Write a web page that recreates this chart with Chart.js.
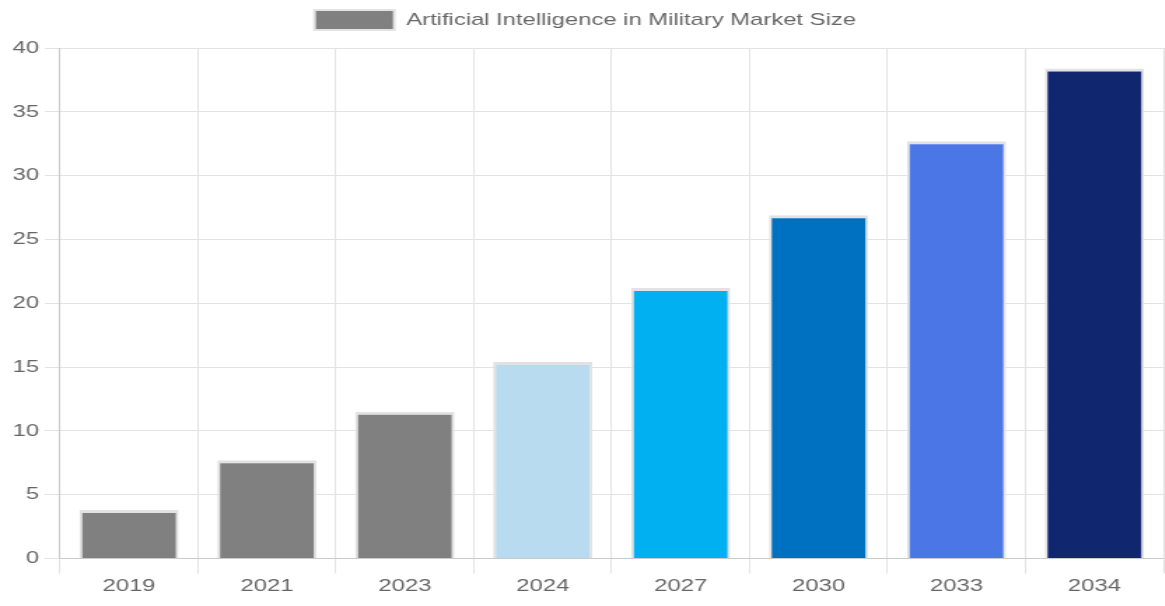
<!DOCTYPE html>
<html><head><meta charset="utf-8">
<script src="https://cdn.jsdelivr.net/npm/chart.js@4"></script>
<style>html,body{margin:0;padding:0;background:#fff;overflow:hidden;}#wrap{width:832px;height:606px;transform:scaleX(1.4);transform-origin:0 0;}</style>
</head><body><div id="wrap"><canvas id="c" width="832" height="606"></canvas></div>
<script>
const categories = ["2019","2021","2023","2024","2027","2030","2033","2034"];
const marketSize = [3.8, 7.7, 11.5, 15.4, 21.2, 26.9, 32.7, 38.4];
const barColors = ["#808080","#808080","#808080","#b8dbf0","#00b0f0","#0070c0","#4a76e6","#10276f"];
const seriesLabel = "Artificial Intelligence in Military Market Size";
const FONT = { family: 'Liberation Sans, Arial', size: 17 };

const legendGap = {
  id: 'legendGap',
  beforeInit(chart) {
    const fit = chart.legend.fit;
    chart.legend.fit = function () { fit.call(this); this.height += 8; };
  }
};

new Chart(document.getElementById('c'), {
  type: 'bar',
  data: {
    labels: categories,
    datasets: [{
      label: seriesLabel,
      data: marketSize,
      backgroundColor: barColors,
      borderColor: '#e2e2e2',
      borderWidth: { top: 3, left: 2, right: 2, bottom: 0 }
    }]
  },
  options: {
    responsive: false,
    devicePixelRatio: 1,
    animation: false,
    layout: { padding: { left: 5, right: 1, top: 0, bottom: 6 } },
    plugins: {
      legend: {
        labels: {
          boxWidth: 57, boxHeight: 20,
          color: '#666',
          font: FONT,
          generateLabels: (chart) => [{
            text: seriesLabel, fillStyle: '#808080', strokeStyle: '#e2e2e2', lineWidth: 2,
            fontColor: '#666', hidden: false, datasetIndex: 0
          }]
        }
      },
      tooltip: { enabled: false }
    },
    scales: {
      x: {
        grid: { color: '#e3e3e3', tickLength: 15 },
        ticks: { color: '#666', font: FONT }
      },
      y: {
        min: 0, max: 40,
        ticks: { stepSize: 5, color: '#666', font: FONT, padding: 4 },
        grid: { color: '#e3e3e3', tickLength: 11 }
      }
    }
  },
  plugins: [legendGap]
});
</script></body></html>
